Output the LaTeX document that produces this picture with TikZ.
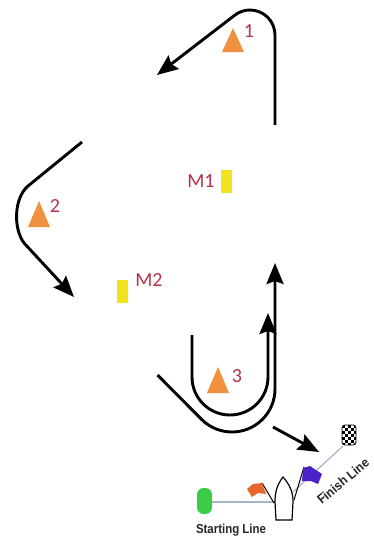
\documentclass[tikz,border=0pt]{standalone}
\usepackage{fontspec}
\newfontfamily\labfont{Carlito}
\newfontfamily\capfont{Liberation Sans}
\usetikzlibrary{arrows.meta}
\definecolor{cone}{HTML}{F0913F}
\definecolor{labred}{HTML}{B3334A}
\definecolor{markyel}{HTML}{F2E41C}
\definecolor{lineblue}{HTML}{A4B6CA}
\definecolor{buoygreen}{HTML}{3DCB4A}
\definecolor{flagorange}{HTML}{E8662A}
\definecolor{flagpurple}{HTML}{4B22C8}
\begin{document}
\begin{tikzpicture}[x=1pt,y=-1pt,
  course/.style={line width=2.9pt, draw=black},
  arr/.style={-{Stealth[length=21pt,width=17pt,inset=3pt]}},
  lab/.style={text=labred, font=\labfont\fontsize{20}{20}\selectfont, inner sep=0pt},
  capt/.style={font=\capfont\bfseries\fontsize{13}{13}\selectfont, inner sep=0pt, text=black!85}]
\useasboundingbox (0,0) rectangle (373,538);
\fill[white] (0,0) rectangle (373,538);

% course paths
\draw[course,arr] (275,125) -- (275,35) arc[start angle=0, end angle=-127, radius=25] -- (157,75);
\draw[course,arr] (82,142) -- (28,186) .. controls (14,198) and (13,228) .. (24,243) -- (74,297);
\draw[course,arr] (192,335) -- (192,377) arc[start angle=180, end angle=0, radius=38] -- (268,313);
\draw[course,arr] (157.5,375) -- (201.6,419.4) arc[start angle=135, end angle=0, radius=43] -- (275,263);
\draw[course,arr] (273,427) -- (319,452);

% cones
\fill[cone] (233,28) -- (244,52) -- (222,52) -- cycle;
\fill[cone] (39,201) -- (50,227) -- (28,227) -- cycle;
\fill[cone] (218,367) -- (229,393) -- (207,393) -- cycle;
\node[lab] (l1) at (249,31) {1};
\node[lab] (l2) at (55,206) {2};
\node[lab] (l3) at (237,376) {3};

% marks
\fill[markyel] (221,170) rectangle (232,193);
\node[lab] (m1) at (201,181) {M1};
\fill[markyel] (117,280) rectangle (128,303);
\node[lab] (m2) at (149,280) {M2};

% start / finish lines
\draw[lineblue, line width=1.4pt] (212,502) -- (276,502);
\draw[lineblue, line width=1.2pt] (293,492) -- (343,446);

% green buoy
\fill[buoygreen, rounded corners=6.5] (197,488) rectangle (212,514);

% checkered buoy
\begin{scope}
\clip[rounded corners=3] (342,425) rectangle (356,445);
\fill[white] (342,425) rectangle (356,445);
\foreach \i in {0,...,4} {
  \foreach \j in {0,...,6} {
    \pgfmathtruncatemacro\k{mod(\i+\j,2)}
    \ifnum\k=0 \fill[black] (342+3*\i,425+3*\j) rectangle ++(3,3); \fi
  }
}
\end{scope}
\draw[rounded corners=3, line width=0.8pt] (342,425) rectangle (356,445);

% boat
\draw[fill=white, line width=1.2pt] (283,477) .. controls (277,485) and (275,492) .. (275,502) -- (276,520) -- (292,520) -- (293,502) .. controls (293,492) and (290,485) .. (283,477) -- cycle;

% flags
\draw[line width=1pt] (262,483) -- (274,503);
\fill[flagorange] (247,489) -- (253,484) -- (262,483) -- (266,494) -- (258,493) -- (252,497) -- cycle;
\draw[line width=1pt] (304,467) -- (294,500);
\fill[flagpurple] (303,468) -- (310,466) -- (322,474) -- (318,484) -- (311,481) -- (302,481) -- cycle;

% captions
\node[capt, xscale=0.88] (st) at (231,530) {Starting Line};
\node[capt, rotate=40, xscale=0.92] (fi) at (343,481) {Finish Line};
\end{tikzpicture}
\end{document}
